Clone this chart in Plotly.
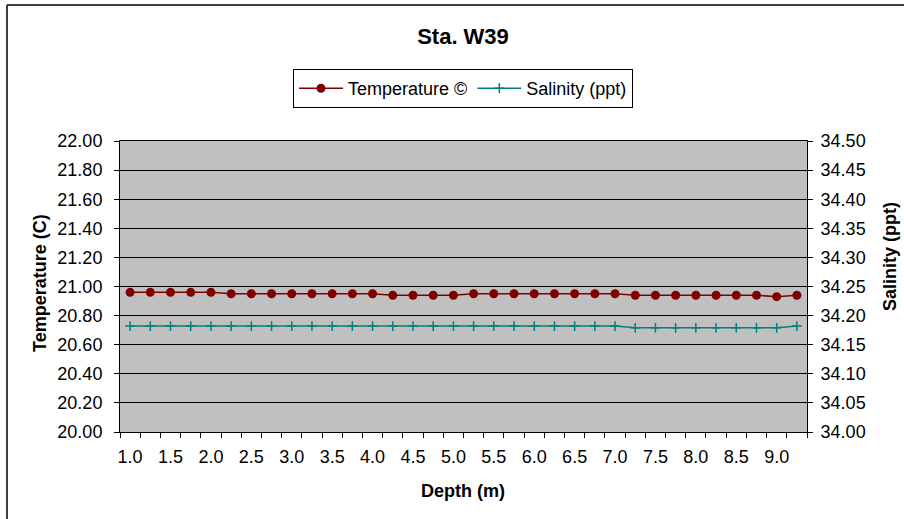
import plotly.graph_objects as go

depth = [1.0 + 0.25 * i for i in range(34)]
temperature = [20.96, 20.96, 20.96, 20.96, 20.96,
               20.95, 20.95, 20.95, 20.95, 20.95, 20.95, 20.95, 20.95,
               20.94, 20.94, 20.94, 20.94,
               20.95, 20.95, 20.95, 20.95, 20.95, 20.95, 20.95, 20.95,
               20.94, 20.94, 20.94, 20.94, 20.94, 20.94, 20.94,
               20.93, 20.94]
salinity = [34.182] * 25 + [34.179] * 8 + [34.182]
x_tickvals = [1.0 + 0.5 * i for i in range(17)]
x_ticktext = ["%.1f" % v for v in x_tickvals]

FONT = "Liberation Sans, Arial, sans-serif"

fig = go.Figure()
fig.add_trace(go.Scatter(
    x=depth, y=temperature, name="Temperature ©", mode="lines+markers",
    line=dict(color="#800000", width=1.5),
    marker=dict(symbol="circle", size=9, color="#800000"),
))
fig.add_trace(go.Scatter(
    x=depth, y=salinity, name="Salinity (ppt)", mode="lines+markers", yaxis="y2",
    line=dict(color="#008080", width=1.5),
    marker=dict(symbol="cross-thin", size=7, color="#008080",
                line=dict(color="#008080", width=1.5)),
))

W, H = 904, 519
PL, PR, PT, PB = 120, 807, 141, 432
L, R, T, B = PL, W - PR, PT, H - PB
pw, ph = PR - PL, PB - PT


def px(x):
    return (x - L) / pw


def py(y):
    return (PB - y) / ph


fig.update_layout(
    width=W, height=H,
    margin=dict(l=L, r=R, t=T, b=B, autoexpand=False),
    paper_bgcolor="white", plot_bgcolor="#C0C0C0",
    font=dict(family=FONT, size=18, color="black"),
    title=dict(text="<b>Sta. W39</b>", x=px(463), xref="paper", xanchor="center",
               y=1 - 36 / H, yanchor="middle", font=dict(size=22)),
    showlegend=True,
    legend=dict(orientation="h", x=px(463), xanchor="center", y=py(69), yanchor="top",
                bordercolor="black", borderwidth=1, bgcolor="white",
                font=dict(size=18), tracegroupgap=0, itemwidth=44),
    xaxis=dict(
        range=[0.875, 9.375], tickmode="array", tickvals=x_tickvals, ticktext=x_ticktext,
        ticks="outside", ticklen=8, tickcolor="rgba(0,0,0,0)",
        showgrid=False, zeroline=False, showline=True, linecolor="black",
        linewidth=1, mirror=True,
        minor=dict(tickmode="linear", tick0=0.875, dtick=0.25, ticks="outside",
                   ticklen=5, tickcolor="black", showgrid=False),
    ),
    yaxis=dict(
        range=[20.0, 22.0], dtick=0.2, tick0=20.0, tickformat=".2f",
        ticks="outside", ticklen=5, tickcolor="black", ticklabelstandoff=8,
        showgrid=True, gridcolor="black", gridwidth=1, zeroline=False,
        showline=True, linecolor="black", linewidth=1,
    ),
    yaxis2=dict(
        range=[34.0, 34.5], dtick=0.05, tick0=34.0, tickformat=".2f",
        overlaying="y", side="right", ticklabelstandoff=4,
        ticks="outside", ticklen=5, tickcolor="black",
        showgrid=False, zeroline=False, showline=True, linecolor="black", linewidth=1,
    ),
    annotations=[
        dict(text="<b>Depth (m)</b>", xref="paper", yref="paper", x=px(463), y=py(491),
             xanchor="center", yanchor="middle", showarrow=False, font=dict(size=18)),
        dict(text="<b>Temperature (C)</b>", xref="paper", yref="paper", x=px(40), y=py(283),
             xanchor="center", yanchor="middle", textangle=-90, showarrow=False,
             font=dict(size=18)),
        dict(text="<b>Salinity (ppt)</b>", xref="paper", yref="paper", x=px(890), y=py(257),
             xanchor="center", yanchor="middle", textangle=-90, showarrow=False,
             font=dict(size=18)),
    ],
    shapes=[
        dict(type="line", xref="paper", yref="paper", x0=px(7), x1=px(7), y0=py(5), y1=py(525),
             line=dict(color="black", width=1.5), layer="below"),
        dict(type="line", xref="paper", yref="paper", x0=px(7), x1=px(910), y0=py(5), y1=py(5),
             line=dict(color="black", width=1.5), layer="below"),
    ],
)

fig.write_html("out.html", config={"displayModeBar": False},
               post_script="document.body.style.margin='0';document.body.style.overflow='hidden';")
